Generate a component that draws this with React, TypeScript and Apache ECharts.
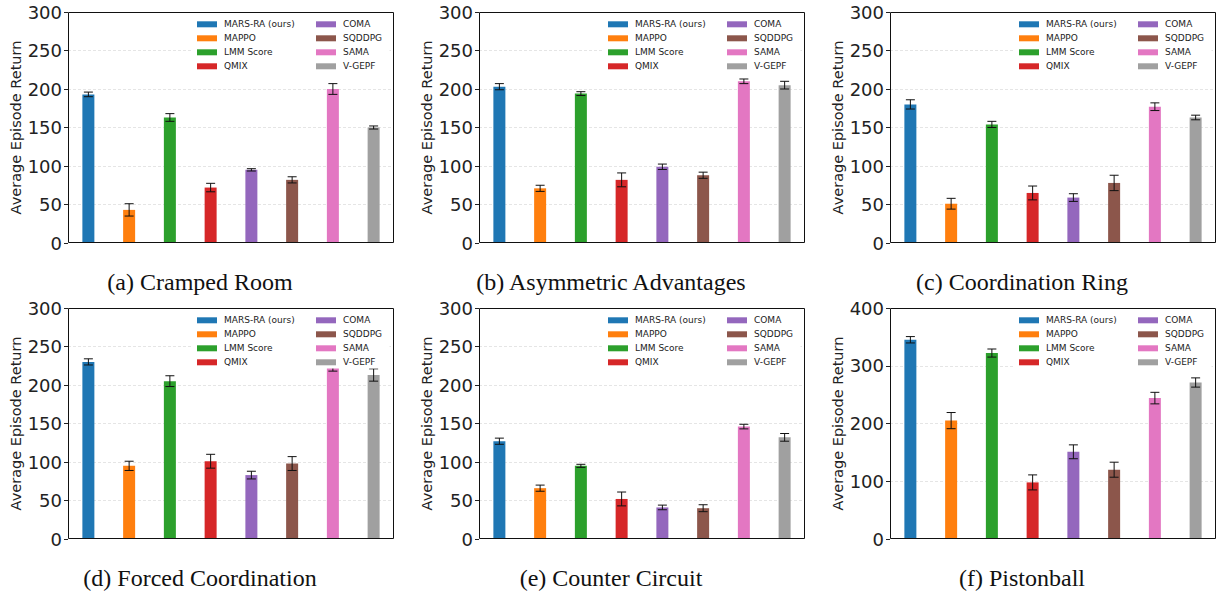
import React, { useEffect, useRef } from "react";
import * as echarts from "echarts";

const methods = ["MARS-RA (ours)", "MAPPO", "LMM Score", "QMIX", "COMA", "SQDDPG", "SAMA", "V-GEPF"];
const colors = ["#1f77b4", "#ff7f0e", "#2ca02c", "#d62728", "#9467bd", "#8c564b", "#e377c2", "#a0a0a0"];

const crampedRoom = [193, 43, 163, 72, 95, 82, 200, 150];
const crampedRoomErr = [3, 8, 5, 5.5, 1.5, 4, 7, 2];
const asymmetricAdvantages = [203, 71, 194, 82, 99, 88, 210, 205];
const asymmetricAdvantagesErr = [4, 4, 2.5, 9, 3.5, 4, 3, 5];
const coordinationRing = [180, 51, 154, 65, 59, 78, 177, 163];
const coordinationRingErr = [6, 7, 4, 9, 5, 10, 5, 3];
const forcedCoordination = [230, 95, 205, 101, 83, 98, 224, 213];
const forcedCoordinationErr = [4, 6, 7, 9, 5, 9, 6, 8];
const counterCircuit = [127, 66, 95, 52, 41, 40, 146, 132];
const counterCircuitErr = [4, 4, 2, 9, 3, 4.5, 3, 5];
const pistonball = [345, 205, 322, 98, 151, 120, 244, 271];
const pistonballErr = [5.5, 14, 7, 13, 12, 13, 10, 8];

const captions = [
  "(a) Cramped Room",
  "(b) Asymmetric Advantages",
  "(c) Coordination Ring",
  "(d) Forced Coordination",
  "(e) Counter Circuit",
  "(f) Pistonball",
];
const yMax = [300, 300, 300, 300, 300, 400];
const yInterval = [50, 50, 50, 50, 50, 100];
const yAxisName = "Average Episode Return";

const panelValues = [crampedRoom, asymmetricAdvantages, coordinationRing, forcedCoordination, counterCircuit, pistonball];
const panelErrors = [crampedRoomErr, asymmetricAdvantagesErr, coordinationRingErr, forcedCoordinationErr, counterCircuitErr, pistonballErr];

const FONT = "DejaVu Sans";
const SERIF = "Liberation Serif, Times New Roman, serif";

// layout
const PLOT_LEFT = [68, 479, 890];
const PLOT_TOP = [12, 308];
const PLOT_W = 326;
const PLOT_H = 231;
const CAPTION_X = [200, 611, 1022];
const CAPTION_Y = [282, 578];

function buildOption() {
  const grid: any[] = [];
  const xAxis: any[] = [];
  const yAxis: any[] = [];
  const series: any[] = [];
  const legend: any[] = [];
  const graphic: any[] = [];

  for (let i = 0; i < 6; i++) {
    const col = i % 3;
    const row = Math.floor(i / 3);
    const left = PLOT_LEFT[col];
    const top = PLOT_TOP[row];
    grid.push({
      left,
      top,
      width: PLOT_W,
      height: PLOT_H,
      show: false,
    });
    xAxis.push({
      type: "category",
      gridIndex: i,
      data: methods,
      axisLabel: { show: false },
      axisTick: { show: false },
      axisLine: { show: false },
      splitLine: { show: false },
    });
    yAxis.push({
      type: "value",
      gridIndex: i,
      min: 0,
      max: yMax[i],
      interval: yInterval[i],
      name: yAxisName,
      nameLocation: "middle",
      nameGap: 45,
      nameTextStyle: { fontSize: 14.5, fontFamily: FONT, color: "#222" },
      axisLine: { show: false },
      axisTick: { show: true, length: 4, lineStyle: { color: "#222", width: 1 } },
      axisLabel: { fontSize: 18, fontFamily: FONT, color: "#222", margin: 6 },
      splitLine: {
        show: true,
        showMinLine: false,
        showMaxLine: false,
        lineStyle: { type: [3, 2], color: "#dedede", width: 0.8 },
      },
    });

    const values = panelValues[i];
    const errs = panelErrors[i];
    methods.forEach((m, j) => {
      series.push({
        type: "bar",
        name: m,
        xAxisIndex: i,
        yAxisIndex: i,
        data: methods.map((_, k) => (k === j ? values[j] : "-")),
        barWidth: 12,
        barGap: "-100%",
        itemStyle: { color: colors[j] },
        emphasis: { disabled: true },
        silent: true,
        z: 2,
      });
    });
    series.push({
      type: "custom",
      xAxisIndex: i,
      yAxisIndex: i,
      silent: true,
      z: 3,
      data: values.map((v, k) => [k, v - errs[k], v + errs[k]]),
      encode: { x: 0, y: [1, 2] },
      renderItem: (params: any, api: any) => {
        const x = api.value(0);
        const lo = api.coord([x, api.value(1)]);
        const hi = api.coord([x, api.value(2)]);
        const hw = 4.5;
        const st = { stroke: "#111", lineWidth: 1 };
        return {
          type: "group",
          children: [
            { type: "line", shape: { x1: lo[0], y1: lo[1], x2: hi[0], y2: hi[1] }, style: st },
            { type: "line", shape: { x1: lo[0] - hw, y1: lo[1], x2: lo[0] + hw, y2: lo[1] }, style: st },
            { type: "line", shape: { x1: hi[0] - hw, y1: hi[1], x2: hi[0] + hw, y2: hi[1] }, style: st },
          ],
        };
      },
    });

    // legend background box
    graphic.push({
      type: "rect",
      z: 20,
      silent: true,
      shape: { x: left + 125, y: top + 4.5, width: PLOT_W - 125 - 4.5, height: 56 },
      style: { fill: "#ffffff" },
    });
    // plot frame (spines)
    graphic.push({
      type: "rect",
      z: 25,
      silent: true,
      shape: { x: left + 0.5, y: top + 0.5, width: PLOT_W - 1, height: PLOT_H - 1 },
      style: { fill: "none", stroke: "#111", lineWidth: 1 },
    });

    const legendCommon = {
      orient: "vertical",
      top: top + 7.3,
      itemWidth: 20,
      itemHeight: 6,
      itemGap: 4,
      padding: 0,
      icon: "rect",
      selectedMode: false,
      z: 30,
      textStyle: { fontSize: 9, lineHeight: 10, fontFamily: FONT, color: "#222", padding: [0, 0, 0, 2] },
    };
    legend.push({ ...legendCommon, left: left + 129, data: methods.slice(0, 4) });
    legend.push({ ...legendCommon, left: left + 248, data: methods.slice(4, 8) });

    graphic.push({
      type: "text",
      z: 30,
      silent: true,
      x: CAPTION_X[col],
      y: CAPTION_Y[row],
      style: {
        text: captions[i],
        fill: "#111",
        font: `24px ${SERIF}`,
        textAlign: "center",
        textVerticalAlign: "middle",
      },
    });
  }

  return {
    animation: false,
    backgroundColor: "#ffffff",
    grid,
    xAxis,
    yAxis,
    series,
    legend,
    graphic,
  };
}

export default function App() {
  const ref = useRef<HTMLDivElement>(null);
  useEffect(() => {
    document.body.style.margin = "0";
    if (!ref.current) return;
    const chart = echarts.init(ref.current, undefined, { renderer: "svg" });
    chart.setOption(buildOption() as any);
    return () => chart.dispose();
  }, []);
  return <div ref={ref} style={{ position: "absolute", left: 0, top: 0, width: 1217, height: 593 }} />;
}
